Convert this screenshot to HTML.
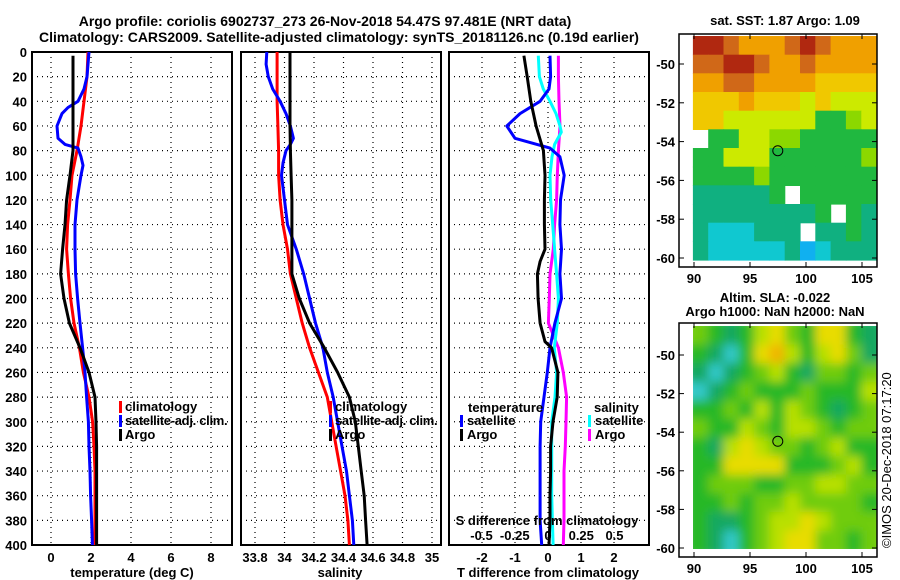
<!DOCTYPE html>
<html><head><meta charset="utf-8"><style>
body{margin:0;background:#fff;}
svg{display:block;font-family:"Liberation Sans",sans-serif;font-weight:bold;}
</style></head><body>
<svg id="chart" width="900" height="580" viewBox="0 0 900 580" xmlns="http://www.w3.org/2000/svg">
<defs><filter id="blur" x="0" y="0" width="1" height="1"><feGaussianBlur stdDeviation="5"/></filter>
<clipPath id="clip2"><rect x="693" y="326" width="184" height="223"/></clipPath></defs>
<text x="325" y="26" font-size="14" text-anchor="middle">Argo profile: coriolis 6902737_273 26-Nov-2018 54.47S 97.481E (NRT data)</text>
<text x="339" y="42" font-size="14" text-anchor="middle">Climatology: CARS2009. Satellite-adjusted climatology: synTS_20181126.nc (0.19d earlier)</text>
<g id="g"></g>
</svg>
<script>
// ---- data ----
const depthT = [0,20,40,60,80,100,120,140,160,180,200,220,240,260,280,300,320,340,360,380,400];
const tempClim = [1.85,1.8,1.65,1.5,1.3,1.05,0.95,0.83,0.78,0.87,0.98,1.15,1.42,1.62,1.9,2.08,2.15,2.2,2.2,2.2,2.2];
const tempArgoDepth = [3,20,40,60,80,100,120,140,160,180,200,220,240,260,280,300,320,340,360,380,400];
const tempArgo = [1.1,1.1,1.1,1.1,1.1,0.95,0.78,0.7,0.58,0.48,0.65,0.92,1.45,1.9,2.2,2.25,2.28,2.28,2.28,2.28,2.28];
const depthSat = [0,20,30,40,45,50,60,70,75,78,85,92,100,120,140,160,180,200,220,240,260,280,300,320,340,360,380,400];
const tempSat = [1.9,1.8,1.65,1.35,0.85,0.55,0.3,0.35,0.7,1.35,1.5,1.6,1.5,1.3,1.2,1.2,1.23,1.33,1.45,1.58,1.7,1.78,1.87,1.9,1.95,1.98,2.03,2.07];

const depthS = [0,20,40,60,80,100,120,140,160,180,200,220,240,260,280,300,320,340,360,380,400];
const salClim = [33.95,33.95,33.95,33.955,33.96,33.96,33.97,33.99,34.02,34.04,34.08,34.12,34.17,34.23,34.29,34.32,34.35,34.38,34.41,34.43,34.44];
const salArgo = [34.037,34.037,34.037,34.037,34.04,34.045,34.05,34.05,34.05,34.05,34.1,34.17,34.27,34.36,34.44,34.48,34.5,34.52,34.54,34.55,34.56];
const depthSS = [0,10,20,30,40,50,60,70,75,80,90,100,120,140,160,180,200,220,240,260,280,300,320,340,360,380,400];
const salSat = [33.88,33.875,33.89,33.92,33.97,34.01,34.04,34.06,34.04,34.01,33.99,33.98,34.0,34.02,34.08,34.13,34.17,34.21,34.26,34.29,34.33,34.36,34.39,34.42,34.44,34.46,34.47];

const depthD = [3,20,40,60,80,100,120,140,160,170,180,200,220,235,240,260,280,300,320,340,360,380,400];
const dTArgo = [-0.73,-0.63,-0.52,-0.36,-0.14,-0.09,-0.11,-0.11,-0.09,-0.24,-0.32,-0.3,-0.24,-0.09,0.11,0.3,0.28,0.15,0.08,0.08,0.06,0.06,0.03];
const depthDS = [3,20,30,40,50,60,70,78,85,100,120,140,160,180,200,220,240,260,280,300,320,340,360,380,400];
const dTSat = [0.06,0.08,0.03,-0.24,-0.85,-1.25,-1.0,0.06,0.36,0.49,0.38,0.36,0.41,0.36,0.41,0.21,0.06,-0.02,-0.12,-0.22,-0.24,-0.24,-0.24,-0.24,-0.19];
const depthCS = [3,20,30,40,50,60,65,75,85,100,120,140,160,180,200,220,240,260,280,300,320,340,360,380,400];
const dSSat = [-0.073,-0.065,-0.035,0.015,0.06,0.09,0.1,0.05,0.03,0.015,0.02,0.035,0.05,0.065,0.078,0.07,0.047,0.065,0.053,0.028,0.028,0.028,0.028,0.033,0.038];
const depthMS = [3,20,40,60,80,100,120,140,160,180,200,220,240,260,280,300,320,340,360,380,400];
const dSArgo = [0.078,0.078,0.083,0.09,0.078,0.07,0.065,0.05,0.04,0.015,0.01,0.003,0.078,0.115,0.14,0.135,0.13,0.12,0.12,0.12,0.115];

const depthTicks = [0,20,40,60,80,100,120,140,160,180,200,220,240,260,280,300,320,340,360,380,400];
const tempTicks = [0,2,4,6,8];
const salTicks = [33.8,34,34.2,34.4,34.6,34.8,35];
const dTTicks = [-2,-1,0,1,2];
const dSTicks = [-0.5,-0.25,0,0.25,0.5];
const dSTickLabels = ["-0.5","-0.25","0","0.25","0.5"];
const lonTicks = [90,95,100,105];
const latTicks = [-50,-52,-54,-56,-58,-60];

const sstGrid = [
[9,9,8,7,7,7,8,9,8,7,7,7],
[8,8,9,9,8,7,7,8,7,7,7,7],
[7,7,8,8,7,7,7,7,6,6,6,6],
[6,6,6,7,6,6,6,5,6,5,5,5],
[6,6,5,5,5,5,5,5,3,3,4,5],
[-1,3,3,5,5,4,4,3,3,3,3,3],
[3,3,5,5,5,3,3,3,3,3,3,4],
[3,3,3,3,4,3,3,3,3,3,3,3],
[2,2,2,2,2,3,-1,3,3,3,3,3],
[2,2,2,2,2,2,2,2,3,-1,3,2],
[2,1,1,1,2,2,2,-1,2,2,3,2],
[2,1,1,1,1,1,2,0,1,2,2,2]];
const sstColors = ['#10b0f0','#10c8d0','#10b080','#20b840','#8cd800','#ccea00','#f0c800','#f0a000','#d06818','#b02810'];
const slaGrid = [
[3,2,1,2,4,5,3,2,5,5,2,1],
[2,1,0,2,5,6,4,2,4,5,3,1],
[1,0,1,2,3,4,2,1,3,3,2,3],
[0,1,2,3,2,2,2,3,2,2,2,4],
[2,2,3,2,4,2,4,3,2,1,2,3],
[3,2,2,4,3,2,4,4,3,2,3,3],
[2,1,4,5,4,3,3,2,3,4,2,2],
[2,2,5,5,5,5,2,2,2,3,4,2],
[2,3,3,3,2,2,3,3,4,4,3,3],
[2,2,3,2,3,3,4,3,3,3,3,2],
[2,1,1,2,3,4,4,5,4,3,3,3],
[2,1,0,2,3,4,5,5,3,3,2,3]];
const slaColors = ['#30c8c8','#18a860','#28b828','#70cc10','#b8e000','#e8dc00','#f0b400'];
const argoLon = 97.481, argoLat = -54.47;

// ---- helpers ----
const NS='http://www.w3.org/2000/svg';
const G=document.getElementById('g');
function mk(tag,attrs,parent){const e=document.createElementNS(NS,tag);for(const k in attrs)e.setAttribute(k,attrs[k]);(parent||G).appendChild(e);return e;}
const y0=52, y1=545;
const yD = d => y0 + d*(y1-y0)/400;
const xT = t => 51 + t*20;
const xS = s => 255 + (s-33.8)*147.5;
const xDT = v => 548 + v*33;
const xDS = v => 548 + v*133;

function panel(x,name){
  const r=mk('rect',{x:x,y:y0,width:200,height:y1-y0,fill:'none',stroke:'#000','stroke-width':2});
  
  
  depthTicks.forEach(d=>{
    if(d>0&&d<400){const l=mk('line',{x1:x,x2:x+200,y1:yD(d),y2:yD(d),stroke:'#000','stroke-dasharray':'1,4','stroke-width':1.2});
    
    }
  });
}
function vgrid(x){
  const l=mk('line',{x1:x,x2:x,y1:y0,y2:y1,stroke:'#000','stroke-dasharray':'1,4','stroke-width':1.2});
  
  
}
function curve(xs,ds,fx,color,name){
  const pts=xs.map((v,i)=>fx(v).toFixed(1)+','+yD(ds[i]).toFixed(1)).join(' ');
  const p=mk('polyline',{points:pts,fill:'none',stroke:color,'stroke-width':3,'stroke-linejoin':'round'});
  
  
}
function txt(x,y,s,anchor,size,name){
  const t=mk('text',{x:x,y:y,'font-size':size||13,'text-anchor':anchor||'start'});
  t.textContent=s;
  
  
  return t;
}
function legendBar(x,y,color){
  const b=mk('rect',{x:x,y:y-10,width:3,height:12,fill:color});
  
  
}

depthTicks.forEach(d=>txt(27,yD(d)+5,String(d),'end',13,'y-tick-label'));

// panel 1
tempTicks.forEach(t=>vgrid(xT(t)));
panel(32,'temperature-panel');
curve(tempClim,depthT,xT,'#f00','temperature-climatology-line');
curve(tempSat,depthSat,xT,'#00f','temperature-satellite-line');
curve(tempArgo,tempArgoDepth,xT,'#000','temperature-argo-line');
tempTicks.forEach(t=>txt(xT(t),562,String(t),'middle',13,'x-tick-label'));
txt(132,577,'temperature (deg C)','middle',13,'temperature-axis-title');
legendBar(119,411,'#f00');txt(125,411,'climatology','start',13,'legend-entry');
legendBar(119,425,'#00f');txt(125,425,'satellite-adj. clim.','start',13,'legend-entry').setAttribute('letter-spacing','-0.3');
legendBar(119,439,'#000');txt(125,439,'Argo','start',13,'legend-entry');

// panel 2
salTicks.forEach(s=>vgrid(xS(s)));
panel(241,'salinity-panel');
curve(salClim,depthS,xS,'#f00','salinity-climatology-line');
curve(salSat,depthSS,xS,'#00f','salinity-satellite-line');
curve(salArgo,depthS,xS,'#000','salinity-argo-line');
salTicks.forEach(s=>txt(xS(s),562,String(s),'middle',13,'x-tick-label'));
txt(340,577,'salinity','middle',13,'salinity-axis-title');
legendBar(329,411,'#f00');txt(335,411,'climatology','start',13,'legend-entry');
legendBar(329,425,'#00f');txt(335,425,'satellite-adj. clim.','start',13,'legend-entry').setAttribute('letter-spacing','-0.3');
legendBar(329,439,'#000');txt(335,439,'Argo','start',13,'legend-entry');

// panel 3
dTTicks.forEach(v=>vgrid(xDT(v)));
panel(449,'difference-panel');
curve(dSArgo,depthMS,xDS,'#f0f','salinity-diff-argo-line');
curve(dSSat,depthCS,xDS,'#0ff','salinity-diff-satellite-line');
curve(dTSat,depthDS,xDT,'#00f','temperature-diff-satellite-line');
curve(dTArgo,depthD,xDT,'#000','temperature-diff-argo-line');
dTTicks.forEach(v=>txt(xDT(v),562,String(v),'middle',13,'x-tick-label'));
txt(548,577,'T difference from climatology','middle',13,'t-diff-axis-title');
txt(468,412,'temperature','start',13,'legend-title');
legendBar(460,425,'#00f');txt(467,425,'satellite','start',13,'legend-entry');
legendBar(460,439,'#000');txt(467,439,'Argo','start',13,'legend-entry');
txt(594,412,'salinity','start',13,'legend-title');
legendBar(588,425,'#0ff');txt(595,425,'satellite','start',13,'legend-entry');
legendBar(588,439,'#f0f');txt(595,439,'Argo','start',13,'legend-entry');
txt(547,525,'S difference from climatology','middle',13,'s-diff-axis-title');
dSTicks.forEach((v,i)=>txt(xDS(v),540,dSTickLabels[i],'middle',13,'s-diff-tick-label'));

// ---- maps ----
const lonX = lon => 694 + (lon-90)*11.2;
function mapPanel(grid,colors,top,bottom,latY,blur,name,frameTop,frameBot){
  const g=mk('g',blur?{filter:'url(#blur)','clip-path':'url(#clip2)'}:{});
  
  
  const rows=grid.length, cols=grid[0].length;
  const lonMin=89.9, lonMax=106.3, latMax=latY.inv(top), latMin=latY.inv(bottom);
  const pad=blur?8:0;
  grid.forEach((row,r)=>row.forEach((v,c)=>{
    if(v<0)return;
    const x=lonX(lonMin+(lonMax-lonMin)*c/cols), x2=lonX(lonMin+(lonMax-lonMin)*(c+1)/cols);
    const y=latY(latMax-(latMax-latMin)*r/rows), y2=latY(latMax-(latMax-latMin)*(r+1)/rows);
    const cell=mk('rect',{x:(c==0?x-pad:x).toFixed(1),y:(r==0?y-pad:y).toFixed(1),width:(x2-x+0.6+(c==0||c==cols-1?pad:0)).toFixed(1),height:(y2-y+0.6+(r==0||r==rows-1?pad:0)).toFixed(1),fill:colors[v]},g);
    
    
  }));
  const f=mk('path',{d:`M679 ${frameTop} H877 V${frameBot} H679 Z`,fill:'none',stroke:'#000','stroke-width':1.5});
  
  
  latTicks.forEach(l=>{txt(675,latY(l)+5,String(l),'end',13,'lat-tick-label');
    mk('line',{x1:679,x2:684,y1:latY(l),y2:latY(l),stroke:'#000'});mk('line',{x1:872,x2:877,y1:latY(l),y2:latY(l),stroke:'#000'});});
  lonTicks.forEach(l=>{txt(lonX(l),frameBot+16,String(l),'middle',13,'lon-tick-label');
    mk('line',{x1:lonX(l),x2:lonX(l),y1:frameBot,y2:frameBot-5,stroke:'#000'});mk('line',{x1:lonX(l),x2:lonX(l),y1:frameTop,y2:frameTop+5,stroke:'#000'});});
  const m=mk('circle',{cx:lonX(argoLon),cy:latY(argoLat),r:5,fill:'none',stroke:'#000','stroke-width':1});
  
  
}
const latY1 = l => 64 + (-50-l)*19.4; latY1.inv = y => -50-(y-64)/19.4;
mapPanel(sstGrid,sstColors,36,260,latY1,false,'sst-map',34,267);
txt(785,25,'sat. SST: 1.87 Argo: 1.09','middle',13,'sst-map-title');
const latY2 = l => 355 + (-50-l)*19.3; latY2.inv = y => -50-(y-355)/19.3;
mapPanel(slaGrid,slaColors,326,549,latY2,true,'sla-map',323,557);
txt(775,302,'Altim. SLA: -0.022','middle',13,'sla-map-title');
txt(775,316,'Argo h1000: NaN h2000: NaN','middle',13,'sla-map-subtitle');
const st=txt(0,0,'©IMOS 20-Dec-2018 07:17:20','start',13,'timestamp-credit');
st.setAttribute('font-weight','normal');
st.setAttribute('transform','translate(891,548) rotate(-90)');
</script>
</body></html>
